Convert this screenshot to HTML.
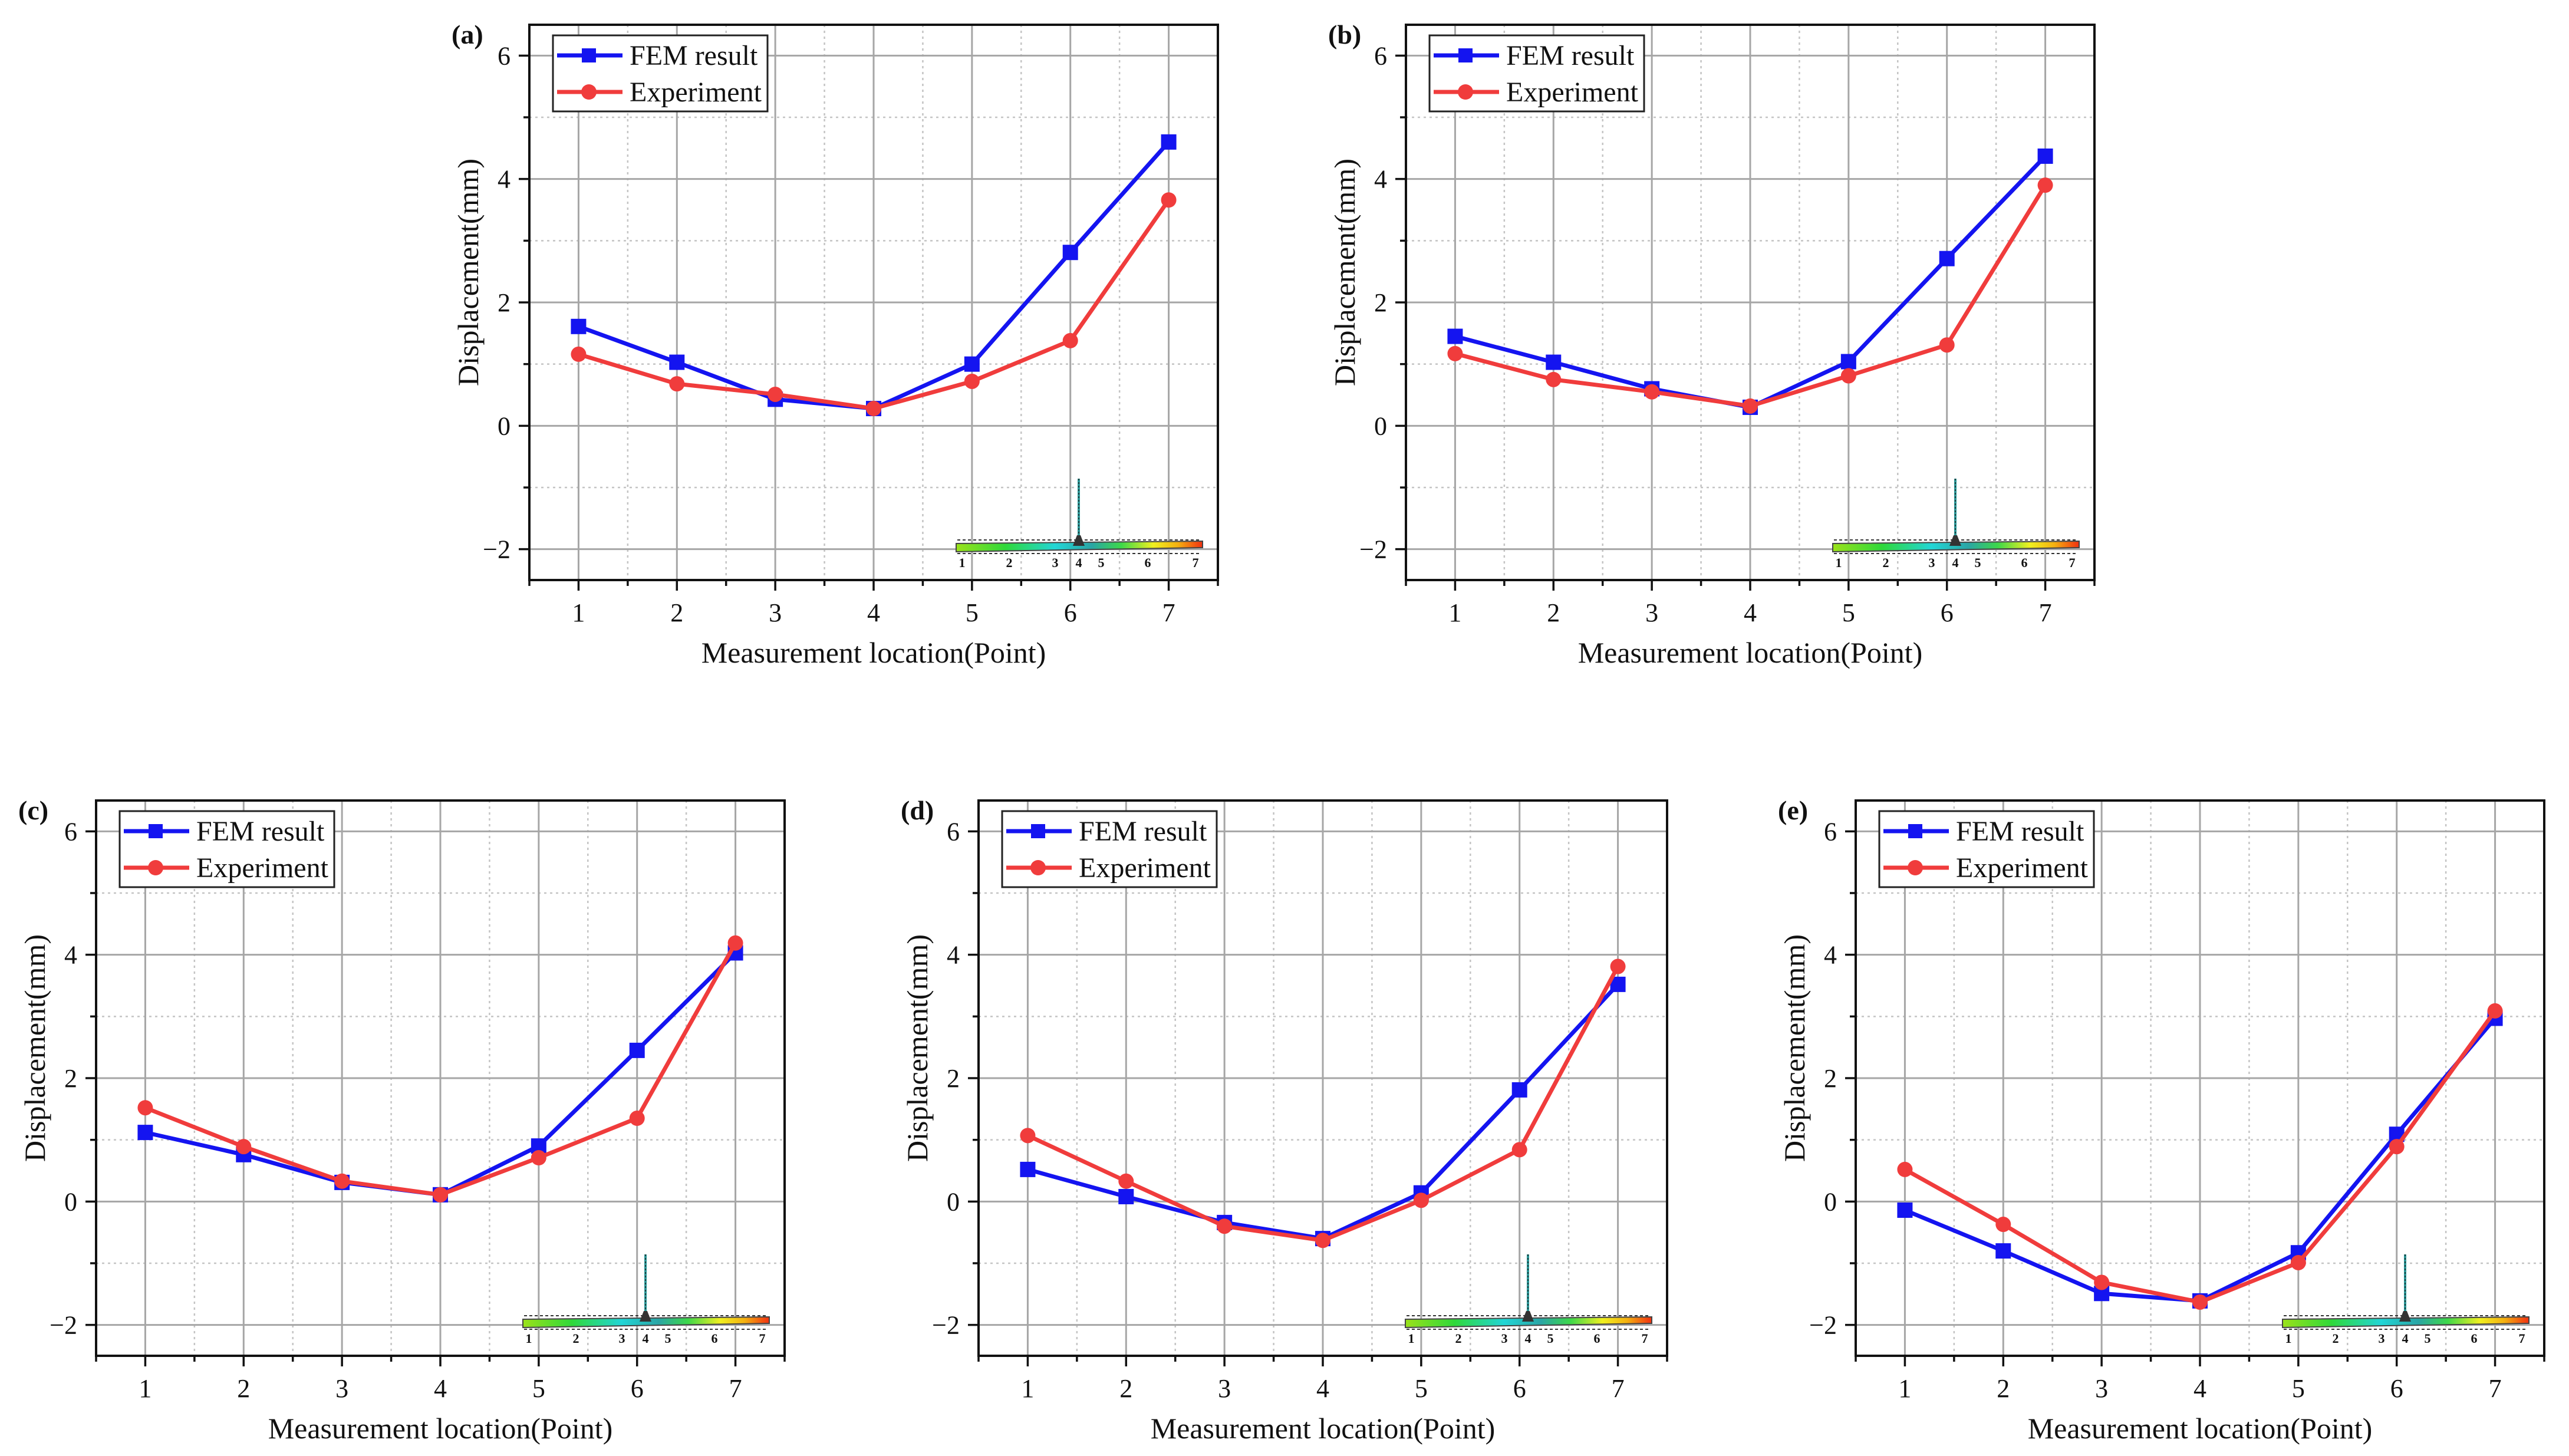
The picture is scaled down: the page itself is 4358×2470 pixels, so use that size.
<!DOCTYPE html>
<html><head><meta charset="utf-8">
<style>
html,body{margin:0;padding:0;background:#fff;}
svg{display:block;}
text{font-family:"Liberation Serif","Times New Roman",serif;fill:#111;}
</style></head>
<body>
<svg id="fig" width="4358" height="2470" viewBox="0 0 4358 2470" xmlns="http://www.w3.org/2000/svg">
<defs>
<linearGradient id="beamGrad" x1="0" x2="1" y1="0" y2="0">
<stop offset="0" stop-color="#9be21a"/><stop offset="0.2" stop-color="#2fd83a"/><stop offset="0.4" stop-color="#22d6d6"/><stop offset="0.55" stop-color="#2aa5a5"/><stop offset="0.67" stop-color="#3dd84a"/><stop offset="0.8" stop-color="#f0f020"/><stop offset="0.9" stop-color="#f4b010"/><stop offset="1" stop-color="#f23010"/>
</linearGradient>
</defs>
</svg>
<script>
// ---- data ----
const categories = [1, 2, 3, 4, 5, 6, 7];
const yTicks = [-2, 0, 2, 4, 6];
const xTickLabels = ["1", "2", "3", "4", "5", "6", "7"];
const panelLabels = ["(a)", "(b)", "(c)", "(d)", "(e)"];
const femA = [1.61, 1.03, 0.43, 0.28, 1.00, 2.81, 4.60];
const expA = [1.16, 0.68, 0.51, 0.28, 0.72, 1.38, 3.66];
const femB = [1.45, 1.03, 0.60, 0.30, 1.04, 2.71, 4.37];
const expB = [1.17, 0.75, 0.55, 0.32, 0.81, 1.31, 3.90];
const femC = [1.12, 0.76, 0.31, 0.11, 0.90, 2.45, 4.03];
const expC = [1.52, 0.89, 0.33, 0.11, 0.71, 1.35, 4.19];
const femD = [0.52, 0.08, -0.34, -0.60, 0.14, 1.81, 3.52];
const expD = [1.07, 0.33, -0.40, -0.63, 0.02, 0.84, 3.81];
const femE = [-0.14, -0.80, -1.49, -1.61, -0.83, 1.09, 2.97];
const expE = [0.52, -0.37, -1.31, -1.63, -0.99, 0.89, 3.09];
const femSeries = [femA, femB, femC, femD, femE];
const expSeries = [expA, expB, expC, expD, expE];

// ---- layout ----
const NS = "http://www.w3.org/2000/svg";
const svg = document.getElementById("fig");
const panelOrigins = [[898, 42], [2385, 42], [163, 1358], [1660, 1358], [3148, 1358]];
const PW = 1168, PH = 942;
const XMIN = 0.5, XMAX = 7.5, YMIN = -2.5, YMAX = 6.5;
const BLUE = "#1414f0", RED = "#f03c3c";

function mk(tag, attrs, parent) {
  const e = document.createElementNS(NS, tag);
  for (const k in attrs) e.setAttribute(k, attrs[k]);
  (parent || svg).appendChild(e);
  return e;
}

panelOrigins.forEach((o, pi) => {
  const L = o[0], T = o[1];
  const xs = v => L + (v - XMIN) / (XMAX - XMIN) * PW;
  const ys = v => T + (YMAX - v) / (YMAX - YMIN) * PH;
  const g = mk("g", {});
  
  

  for (let v = 1.5; v < 7.5; v += 1) {
    const l = mk("line", {x1: xs(v), x2: xs(v), y1: T, y2: T + PH, stroke: "#c4c4c4", "stroke-width": 2.5, "stroke-dasharray": "4 6"}, g);
    
    
  }
  for (let v = -1; v <= 5; v += 2) {
    const l = mk("line", {x1: L, x2: L + PW, y1: ys(v), y2: ys(v), stroke: "#c4c4c4", "stroke-width": 2.5, "stroke-dasharray": "4 6"}, g);
    
    
  }
  categories.forEach(c => {
    const l = mk("line", {x1: xs(c), x2: xs(c), y1: T, y2: T + PH, stroke: "#a6a6a6", "stroke-width": 3}, g);
    
    
  });
  yTicks.forEach(v => {
    const l = mk("line", {x1: L, x2: L + PW, y1: ys(v), y2: ys(v), stroke: "#a6a6a6", "stroke-width": 3}, g);
    
    
  });

  const ins = mk("g", {}, g);
  
  
  mk("line", {x1: L + 726, x2: L + 1140, y1: T + 874, y2: T + 874, stroke: "#333", "stroke-width": 2, "stroke-dasharray": "5 4"}, ins);
  mk("line", {x1: L + 726, x2: L + 1140, y1: T + 897, y2: T + 897, stroke: "#333", "stroke-width": 2, "stroke-dasharray": "5 4"}, ins);
  mk("polygon", {points: `${L+724},${T+880} ${L+1142},${T+876} ${L+1142},${T+887} ${L+724},${T+894}`, fill: "url(#beamGrad)", stroke: "#444", "stroke-width": 2}, ins);
  mk("line", {x1: L + 932, x2: L + 932, y1: T + 770, y2: T + 872, stroke: "#2a9a9a", "stroke-width": 4}, ins);
  mk("line", {x1: L + 932, x2: L + 932, y1: T + 770, y2: T + 872, stroke: "#222", "stroke-width": 1.5, "stroke-dasharray": "3 3"}, ins);
  mk("polygon", {points: `${L+929},${T+866} ${L+935},${T+866} ${L+942},${T+884} ${L+922},${T+884}`, fill: "#333"}, ins);
  const insNums = ["1", "2", "3", "4", "5", "6", "7"];
  const insPos = [734, 814, 892, 932, 970, 1049, 1130];
  insNums.forEach((n, i) => {
    const t = mk("text", {x: L + insPos[i], y: T + 920, "font-size": 22, "font-weight": "bold", "text-anchor": "middle"}, ins);
    t.textContent = n;
  });

  const drawSeries = (vals, color, kind) => {
    const pts = categories.map((c, i) => xs(c) + "," + ys(vals[i])).join(" ");
    const pl = mk("polyline", {points: pts, fill: "none", stroke: color, "stroke-width": 7, "stroke-linejoin": "round"}, g);
    
    
    categories.forEach((c, i) => {
      let m;
      if (kind === "fem") {
        m = mk("rect", {x: xs(c) - 13, y: ys(vals[i]) - 13, width: 26, height: 26, fill: color}, g);
      } else {
        m = mk("circle", {cx: xs(c), cy: ys(vals[i]), r: 13, fill: color}, g);
      }
      
      
    });
  };
  drawSeries(femSeries[pi], BLUE, "fem");
  drawSeries(expSeries[pi], RED, "experiment");

  const fr = mk("rect", {x: L, y: T, width: PW, height: PH, fill: "none", stroke: "#111", "stroke-width": 4}, g);
  
  

  for (let v = 0.5; v <= 7.5; v += 0.5) {
    const major = Number.isInteger(v);
    mk("line", {x1: xs(v), x2: xs(v), y1: T + PH, y2: T + PH + (major ? 18 : 10), stroke: "#111", "stroke-width": 3.5}, g);
  }
  categories.forEach((c, i) => {
    const t = mk("text", {x: xs(c), y: T + PH + 70, "font-size": 44, "text-anchor": "middle"}, g);
    
    
    t.textContent = xTickLabels[i];
  });
  for (let v = -2; v <= 6; v += 1) {
    const major = v % 2 === 0;
    mk("line", {x1: L, x2: L - (major ? 18 : 10), y1: ys(v), y2: ys(v), stroke: "#111", "stroke-width": 3.5}, g);
  }
  yTicks.forEach(v => {
    const t = mk("text", {x: L - 32, y: ys(v) + 15, "font-size": 44, "text-anchor": "end"}, g);
    
    
    t.textContent = v < 0 ? "\u2212" + Math.abs(v) : String(v);
  });

  const xt = mk("text", {x: L + PW / 2, y: T + PH + 140, "font-size": 50, "text-anchor": "middle"}, g);
  
  
  xt.textContent = "Measurement location(Point)";
  const yt = mk("text", {x: 0, y: 0, "font-size": 50, "text-anchor": "middle", transform: `translate(${L - 87},${T + 420}) rotate(-90)`}, g);
  
  
  yt.textContent = "Displacement(mm)";

  const pl = mk("text", {x: L - 132, y: T + 32, "font-size": 46, "font-weight": "bold"}, g);
  
  
  pl.textContent = panelLabels[pi];

  const lg = mk("g", {}, g);
  
  
  mk("rect", {x: L + 40, y: T + 18, width: 364, height: 129, fill: "#fff", stroke: "#222", "stroke-width": 3}, lg);
  const e1 = mk("g", {}, lg);
  
  
  mk("line", {x1: L + 47, x2: L + 158, y1: T + 52, y2: T + 52, stroke: BLUE, "stroke-width": 7}, e1);
  mk("rect", {x: L + 89, y: T + 40, width: 24, height: 24, fill: BLUE}, e1);
  const t1 = mk("text", {x: L + 170, y: T + 68, "font-size": 48}, e1);
  t1.textContent = "FEM result";
  const e2 = mk("g", {}, lg);
  
  
  mk("line", {x1: L + 47, x2: L + 158, y1: T + 114, y2: T + 114, stroke: RED, "stroke-width": 7}, e2);
  mk("circle", {cx: L + 101, cy: T + 114, r: 13, fill: RED}, e2);
  const t2 = mk("text", {x: L + 170, y: T + 130, "font-size": 48}, e2);
  t2.textContent = "Experiment";
});
</script>
</body></html>
